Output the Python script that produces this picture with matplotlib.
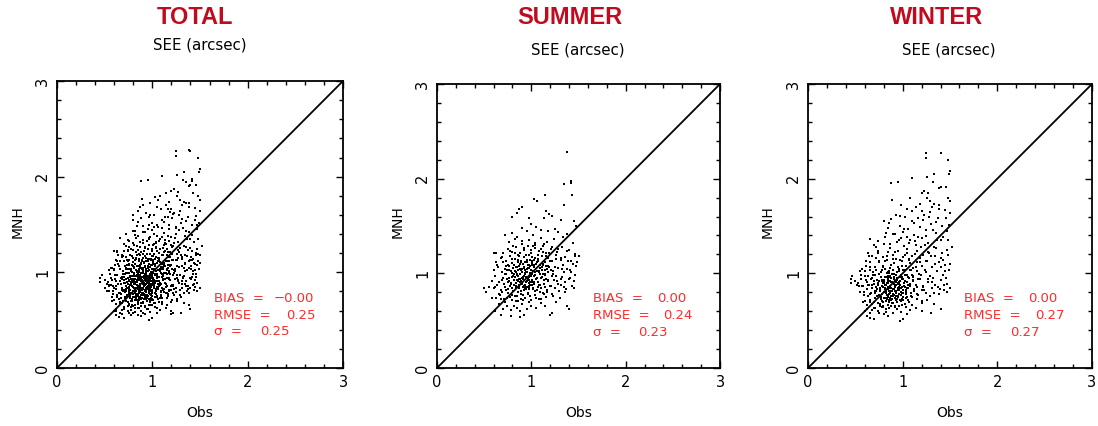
import numpy as np
from matplotlib import pyplot as plt
from matplotlib.ticker import MultipleLocator

summer_obs = [
    1.38, 1.35, 1.42, 1.42, 1.43, 1.14, 1.03, 1.06, 1.35, 0.90, 0.87, 0.85, 0.80, 1.16, 1.19, 1.13, 1.22, 1.31,
    1.45, 0.97, 0.80, 0.90, 1.00, 1.05, 1.10, 1.25, 1.28, 0.95, 0.72, 1.18, 1.38, 1.47, 0.85, 1.02, 1.34,
    0.52, 0.50, 0.55, 0.58, 0.62, 0.68, 0.78, 0.88, 0.92, 1.20, 1.22, 1.40, 1.38, 1.45, 1.48, 1.50, 0.63, 0.60,
    0.70, 0.74, 0.78, 0.82, 0.85, 0.90, 0.95, 1.00, 1.05, 1.10, 0.66, 0.72, 0.88, 0.98, 1.15, 1.26,
    0.63, 0.67, 0.71, 0.75, 0.79, 0.83, 0.86, 0.89, 0.93, 0.96, 1.00, 1.04, 1.08, 1.12, 1.16, 1.22, 1.30, 1.36,
    0.77, 0.91, 0.99, 0.69,
    0.60, 0.64, 0.68, 0.72, 0.75, 0.78, 0.81, 0.84, 0.87, 0.90, 0.92, 0.95, 0.98, 1.01, 1.04, 1.07, 1.10, 1.13,
    1.17, 1.21, 1.25, 1.31, 1.37, 1.43, 0.86, 0.93, 0.80, 0.97,
    0.58, 0.62, 0.66, 0.70, 0.73, 0.76, 0.79, 0.82, 0.85, 0.88, 0.90, 0.93, 0.95, 0.98, 1.01, 1.04, 1.07, 1.10,
    1.14, 1.18, 1.22, 1.27, 1.33, 1.40, 1.46, 0.87, 0.92, 0.84, 0.96,
    0.60, 0.65, 0.69, 0.72, 0.75, 0.78, 0.81, 0.84, 0.87, 0.89, 0.92, 0.94, 0.97, 1.00, 1.03, 1.06, 1.09, 1.12,
    1.15, 1.19, 1.23, 1.28, 1.34, 1.41, 1.47, 0.86, 0.99,
    0.63, 0.68, 0.73, 0.77, 0.80, 0.83, 0.86, 0.89, 0.92, 0.95, 0.98, 1.01, 1.04, 1.07, 1.11, 1.14, 1.18, 1.22,
    1.26, 1.31, 1.36, 1.42, 1.46,
    0.70, 0.75, 0.80, 0.84, 0.88, 0.92, 0.96, 1.00, 1.04, 1.08, 1.12, 1.16, 1.21, 1.27, 1.33, 1.40,
    0.76, 0.83, 0.90, 0.97, 1.04, 1.10, 1.17, 1.24, 1.44,
    0.81, 0.83, 0.85, 0.87, 0.88, 0.90, 0.91, 0.93, 0.94, 0.96, 0.97, 0.99, 1.00, 1.02, 1.03, 1.05, 1.06, 1.08,
    1.09, 1.11, 0.82, 0.84, 0.86, 0.89, 0.91, 0.94, 0.95, 0.98, 1.01, 1.02, 0.79, 0.77, 0.76, 1.13, 1.12, 1.15,
    1.16, 0.74, 0.73, 1.18,
]
summer_mnh = [
    2.28, 1.94, 1.98, 1.95, 1.83, 1.83, 1.79, 1.76, 1.72, 1.70, 1.68, 1.64, 1.60, 1.66, 1.63, 1.58, 1.61, 1.56,
    1.55, 1.58, 1.43, 1.48, 1.52, 1.49, 1.46, 1.47, 1.44, 1.45, 1.40, 1.45, 1.42, 1.50, 1.38, 1.40, 1.38,
    0.80, 0.84, 0.86, 0.74, 0.60, 0.56, 0.55, 0.54, 0.56, 0.56, 0.58, 0.62, 0.66, 0.85, 1.12, 1.18, 1.21, 1.22,
    0.62, 0.65, 0.61, 0.66, 0.63, 0.68, 0.62, 0.66, 0.63, 0.69, 0.68, 0.70, 0.60, 0.70, 0.66, 0.70,
    0.74, 0.77, 0.73, 0.79, 0.72, 0.76, 0.71, 0.78, 0.74, 0.79, 0.72, 0.77, 0.73, 0.79, 0.75, 0.78, 0.74, 0.80,
    0.75, 0.72, 0.76, 0.80,
    0.84, 0.88, 0.82, 0.86, 0.83, 0.89, 0.81, 0.87, 0.84, 0.89, 0.82, 0.86, 0.83, 0.88, 0.81, 0.86, 0.84, 0.89,
    0.82, 0.87, 0.84, 0.88, 0.83, 0.87, 0.80, 0.88, 0.85, 0.90,
    0.92, 0.97, 0.91, 0.95, 0.99, 0.92, 0.96, 0.93, 0.98, 0.91, 0.95, 0.99, 0.92, 0.96, 0.93, 0.98, 0.91, 0.95,
    0.99, 0.93, 0.97, 0.92, 0.96, 0.94, 0.98, 0.94, 0.97, 0.90, 0.94,
    1.03, 1.07, 1.01, 1.05, 1.09, 1.02, 1.06, 1.01, 1.08, 1.03, 1.06, 1.01, 1.09, 1.04, 1.07, 1.02, 1.06, 1.09,
    1.03, 1.07, 1.02, 1.06, 1.09, 1.04, 1.08, 1.04, 1.00,
    1.12, 1.16, 1.13, 1.18, 1.11, 1.15, 1.19, 1.12, 1.17, 1.14, 1.19, 1.11, 1.16, 1.13, 1.18, 1.12, 1.16, 1.13,
    1.19, 1.14, 1.17, 1.13, 1.18,
    1.22, 1.26, 1.23, 1.28, 1.21, 1.25, 1.29, 1.22, 1.27, 1.24, 1.29, 1.21, 1.26, 1.23, 1.28, 1.25,
    1.33, 1.36, 1.31, 1.35, 1.32, 1.37, 1.33, 1.36, 1.32,
    0.97, 1.02, 1.07, 0.88, 0.99, 1.05, 0.86, 1.03, 0.95, 1.06, 0.87, 1.08, 0.97, 1.02, 0.89, 1.10, 0.95, 1.01,
    0.88, 1.04, 1.09, 0.84, 1.12, 0.92, 1.10, 0.83, 1.01, 0.93, 1.13, 0.85, 1.00, 0.87, 1.04, 0.93, 1.10, 0.98,
    1.08, 0.94, 1.08, 1.01,
]
# second pass of summer points, (obs, mnh)
summer_extra = [
    (0.713, 0.884), (0.742, 1.032), (0.768, 0.951), (0.794, 1.147), (0.817, 0.873), (0.836, 1.066),
    (0.853, 0.927), (0.871, 1.183), (0.889, 0.817), (0.904, 1.011), (0.918, 0.869), (0.933, 1.121),
    (0.947, 0.963), (0.962, 0.781), (0.978, 1.052), (0.991, 0.906), (1.007, 1.168), (1.021, 0.834),
    (1.036, 1.015), (1.052, 0.942), (1.068, 1.197), (1.083, 0.876), (1.097, 1.083), (1.113, 0.958),
    (1.128, 1.226), (1.146, 0.851), (1.162, 1.041), (1.181, 0.917), (1.203, 1.134), (1.227, 0.993),
    (1.254, 1.071), (1.283, 0.884), (1.312, 1.162), (1.345, 1.018), (1.376, 1.231), (1.411, 0.952),
    (1.437, 1.096), (1.462, 1.204),
    (0.657, 0.786), (0.684, 0.931), (0.702, 1.118), (0.727, 0.823), (0.751, 0.912), (0.773, 1.241),
    (0.798, 0.769), (0.812, 0.992), (0.829, 1.214), (0.847, 0.758), (0.862, 0.973), (0.878, 1.097),
    (0.893, 0.729), (0.911, 0.938), (0.926, 1.263), (0.941, 0.851), (0.956, 1.044), (0.972, 0.694),
    (0.986, 1.136), (1.003, 0.872), (1.017, 1.291), (1.031, 0.967), (1.046, 0.744), (1.062, 1.118),
    (1.077, 1.023), (1.092, 0.803), (1.107, 1.253), (1.121, 0.997), (1.139, 0.781), (1.157, 1.182),
    (1.176, 1.073), (1.194, 0.861), (1.216, 1.276), (1.238, 0.931), (1.266, 1.149), (1.293, 0.813),
    (1.327, 1.047), (1.358, 0.906), (1.392, 1.132), (1.424, 1.013),
    (0.618, 0.853), (0.641, 1.087), (0.675, 0.732), (0.693, 1.172), (0.719, 0.991), (0.738, 0.741),
    (0.759, 1.074), (0.781, 0.897), (0.803, 1.286), (0.824, 0.962), (0.842, 0.707), (0.858, 1.138),
    (0.876, 0.943), (0.897, 1.337), (0.914, 0.771), (0.929, 1.004), (0.944, 1.192), (0.959, 0.918),
    (0.974, 0.843), (0.994, 1.247), (1.011, 1.087), (1.026, 0.908), (1.043, 1.304), (1.058, 0.826),
    (1.073, 1.151), (1.088, 0.992), (1.104, 0.733), (1.118, 1.064), (1.134, 1.311), (1.152, 0.937),
    (1.171, 0.808), (1.188, 1.212), (1.209, 1.039), (1.232, 0.762), (1.259, 0.968), (1.287, 1.253),
    (1.318, 0.937), (1.351, 0.852), (1.383, 1.044), (1.452, 0.917),
    (0.862, 0.921), (0.881, 1.047), (0.902, 0.883), (0.923, 1.071), (0.941, 0.907), (0.958, 1.118),
    (0.976, 0.961), (0.993, 1.034), (1.012, 0.912), (1.028, 1.089), (0.851, 0.996), (0.873, 0.867),
    (0.894, 1.128), (0.913, 0.958), (0.934, 0.841), (0.953, 1.016), (0.967, 1.092), (0.985, 0.879),
    (1.004, 0.997), (1.024, 1.143),
]

winter_obs = [
    1.25, 1.40, 1.25, 1.48, 1.50, 1.49, 1.33, 1.26, 1.10, 0.88, 0.95, 1.38, 1.40, 1.23, 1.20, 1.08, 1.26, 1.29,
    1.33, 1.48, 1.50, 0.89, 1.31, 1.38, 1.45, 0.98, 1.05, 1.14, 1.20, 0.93, 1.02, 1.16, 1.23, 1.28, 1.37, 1.50,
    0.80, 0.88, 1.10, 1.30, 1.42, 0.84, 0.97, 1.06, 1.18, 1.25, 1.47, 0.82, 0.90, 1.00, 1.12, 1.35, 0.66, 0.70,
    1.48,
    0.45, 0.45, 0.47, 0.50, 0.52, 0.55, 0.57, 0.60, 0.62, 0.65, 0.70, 0.75, 0.85, 0.97, 1.00, 1.05, 1.20, 1.30,
    1.40, 1.47, 1.50, 1.50, 1.52, 0.63,
    0.62, 0.66, 0.70, 0.74, 0.78, 0.82, 0.86, 0.90, 0.94, 0.98, 1.03, 1.08, 1.14, 0.68, 0.80, 0.92,
    0.58, 0.62, 0.65, 0.68, 0.71, 0.74, 0.77, 0.79, 0.82, 0.85, 0.87, 0.90, 0.93, 0.96, 0.99, 1.02, 1.06, 1.10,
    1.15, 1.20, 1.26, 1.33, 0.76, 0.84, 0.88, 0.95,
    0.55, 0.59, 0.62, 0.65, 0.68, 0.71, 0.73, 0.76, 0.78, 0.81, 0.83, 0.86, 0.88, 0.90, 0.93, 0.95, 0.98, 1.00,
    1.03, 1.06, 1.09, 1.12, 1.16, 1.20, 1.25, 1.31, 1.38, 1.44, 0.80, 0.87, 0.92, 0.97, 0.85, 0.75,
    0.53, 0.57, 0.61, 0.64, 0.67, 0.70, 0.72, 0.75, 0.78, 0.80, 0.82, 0.85, 0.87, 0.89, 0.92, 0.94, 0.97, 0.99,
    1.02, 1.05, 1.08, 1.11, 1.14, 1.18, 1.22, 1.27, 1.34, 1.41, 1.47, 0.84, 0.91, 0.96, 0.79, 0.88,
    0.56, 0.60, 0.63, 0.66, 0.69, 0.72, 0.75, 0.78, 0.81, 0.84, 0.87, 0.90, 0.93, 0.96, 0.99, 1.02, 1.05, 1.08,
    1.11, 1.15, 1.19, 1.24, 1.29, 1.36, 1.43, 1.49, 0.86, 0.94,
    0.61, 0.66, 0.71, 0.75, 0.79, 0.83, 0.87, 0.91, 0.95, 0.99, 1.03, 1.07, 1.11, 1.15, 1.20, 1.25, 1.31, 1.38,
    1.45, 0.93,
    0.68, 0.74, 0.79, 0.85, 0.90, 0.95, 1.00, 1.05, 1.10, 1.15, 1.21, 1.27, 1.34, 1.42, 1.48,
    0.72, 0.80, 0.87, 0.94, 1.01, 1.08, 1.14, 1.20, 1.27, 1.33, 1.40, 1.05, 0.98,
    0.76, 0.78, 0.80, 0.82, 0.84, 0.86, 0.88, 0.90, 0.92, 0.94, 0.96, 0.98, 1.00, 1.02, 1.04, 0.77, 0.79, 0.81,
    0.83, 0.85, 0.87, 0.89, 0.91, 0.93, 0.95, 0.97, 0.99, 1.01, 1.03, 1.05, 0.74, 0.72, 0.70, 1.07, 1.09,
]
winter_mnh = [
    2.27, 2.27, 2.22, 2.20, 2.08, 2.05, 2.05, 2.02, 2.01, 1.95, 1.96, 1.90, 1.91, 1.87, 1.85, 1.80, 1.80, 1.76,
    1.73, 1.80, 1.76, 1.77, 1.70, 1.72, 1.67, 1.72, 1.68, 1.70, 1.66, 1.62, 1.60, 1.58, 1.62, 1.60, 1.58, 1.64,
    1.55, 1.57, 1.55, 1.52, 1.50, 1.48, 1.50, 1.47, 1.49, 1.46, 1.45, 1.43, 1.42, 1.44, 1.41, 1.43, 1.36, 1.30,
    1.35,
    0.94, 0.90, 0.97, 0.92, 0.88, 1.02, 1.05, 0.60, 0.55, 0.53, 0.52, 0.58, 0.55, 0.50, 0.52, 0.57, 0.60, 0.58,
    0.62, 0.80, 0.84, 1.10, 1.28, 1.22,
    0.62, 0.58, 0.63, 0.60, 0.64, 0.59, 0.63, 0.58, 0.62, 0.59, 0.64, 0.61, 0.63, 0.61, 0.57, 0.65,
    0.70, 0.67, 0.72, 0.68, 0.74, 0.69, 0.73, 0.66, 0.71, 0.67, 0.74, 0.69, 0.72, 0.66, 0.73, 0.68, 0.72, 0.67,
    0.73, 0.69, 0.72, 0.68, 0.66, 0.75, 0.65, 0.75,
    0.80, 0.77, 0.83, 0.78, 0.84, 0.79, 0.76, 0.82, 0.78, 0.84, 0.77, 0.81, 0.76, 0.83, 0.79, 0.85, 0.77, 0.82,
    0.78, 0.84, 0.79, 0.83, 0.77, 0.82, 0.79, 0.84, 0.78, 0.82, 0.80, 0.79, 0.81, 0.84, 0.83, 0.77,
    0.90, 0.87, 0.93, 0.88, 0.94, 0.89, 0.86, 0.92, 0.87, 0.93, 0.88, 0.94, 0.86, 0.91, 0.87, 0.93, 0.88, 0.94,
    0.86, 0.91, 0.87, 0.93, 0.88, 0.94, 0.86, 0.91, 0.88, 0.93, 0.89, 0.90, 0.89, 0.91, 0.90, 0.95,
    0.98, 1.02, 0.97, 1.03, 0.98, 1.04, 0.99, 1.03, 0.96, 1.01, 0.97, 1.04, 0.98, 1.02, 0.96, 1.03, 0.98, 1.04,
    0.97, 1.02, 0.98, 1.04, 0.97, 1.02, 0.98, 1.03, 1.00, 1.01,
    1.08, 1.12, 1.07, 1.13, 1.08, 1.14, 1.06, 1.11, 1.07, 1.13, 1.08, 1.14, 1.06, 1.12, 1.08, 1.13, 1.07, 1.12,
    1.09, 1.15,
    1.18, 1.22, 1.17, 1.23, 1.19, 1.24, 1.17, 1.22, 1.18, 1.24, 1.19, 1.23, 1.18, 1.22, 1.19,
    1.28, 1.31, 1.27, 1.33, 1.29, 1.35, 1.30, 1.37, 1.32, 1.28, 1.35, 1.38, 1.37,
    0.85, 0.93, 0.74, 0.82, 0.97, 0.72, 0.84, 0.78, 0.92, 0.70, 0.82, 0.98, 0.75, 0.92, 0.80, 0.96, 0.70, 0.88,
    0.73, 0.86, 0.92, 0.73, 0.96, 0.76, 0.89, 0.72, 0.86, 0.90, 0.74, 0.85, 0.88, 0.81, 0.92, 0.95, 0.76,
]
# second pass of winter points, (obs, mnh)
winter_extra = [
    (0.583, 0.862), (0.607, 0.973), (0.629, 0.758), (0.652, 1.064), (0.671, 0.881), (0.694, 0.702),
    (0.713, 0.986), (0.731, 0.837), (0.748, 1.117), (0.766, 0.753), (0.783, 0.918), (0.797, 0.648),
    (0.811, 1.042), (0.826, 0.806), (0.838, 0.961), (0.853, 0.692), (0.867, 0.871), (0.879, 1.088),
    (0.894, 0.763), (0.908, 0.942), (0.921, 0.641), (0.936, 1.012), (0.951, 0.828), (0.967, 0.917),
    (0.983, 0.706), (0.998, 1.081), (1.013, 0.863), (1.029, 0.987), (1.046, 0.754), (1.063, 1.153),
    (1.081, 0.891), (1.098, 0.986), (1.117, 0.813), (1.138, 1.071), (1.161, 0.942), (1.187, 1.164),
    (1.213, 0.868), (1.243, 1.009), (1.276, 1.213), (1.307, 0.913), (1.342, 1.096), (1.374, 0.857),
    (1.408, 1.163), (1.443, 1.027), (1.471, 1.246),
    (0.562, 0.943), (0.591, 0.804), (0.614, 1.126), (0.637, 0.873), (0.658, 0.694), (0.681, 0.947),
    (0.703, 0.812), (0.722, 1.163), (0.739, 0.901), (0.757, 0.671), (0.774, 1.009), (0.789, 0.856),
    (0.804, 0.742), (0.818, 1.131), (0.832, 0.897), (0.846, 0.771), (0.859, 1.021), (0.873, 0.816),
    (0.886, 0.683), (0.901, 1.153), (0.914, 0.853), (0.928, 0.978), (0.943, 0.734), (0.958, 1.047),
    (0.973, 0.879), (0.989, 0.661), (1.004, 0.941), (1.021, 1.192), (1.037, 0.826), (1.054, 0.962),
    (1.072, 0.693), (1.089, 1.037), (1.108, 0.917), (1.127, 1.208), (1.149, 0.781), (1.173, 0.997),
    (1.198, 1.283), (1.226, 0.824), (1.258, 1.127), (1.291, 0.761), (1.324, 0.953), (1.357, 1.268),
    (1.391, 0.836), (1.427, 1.143), (1.462, 0.947),
    (0.541, 0.868), (0.572, 1.047), (0.598, 0.713), (0.621, 0.907), (0.644, 1.178), (0.663, 0.787),
    (0.688, 1.018), (0.708, 0.637), (0.727, 0.932), (0.744, 1.236), (0.762, 0.816), (0.779, 0.703),
    (0.793, 1.067), (0.808, 0.894), (0.821, 0.627), (0.834, 1.186), (0.849, 0.948), (0.863, 0.801),
    (0.876, 0.718), (0.891, 0.992), (0.904, 0.832), (0.917, 1.226), (0.931, 0.907), (0.947, 0.764),
    (0.962, 0.853), (0.977, 1.137), (0.993, 0.791), (1.008, 1.036), (1.024, 0.676), (1.041, 1.258),
    (1.058, 0.874), (1.076, 1.104), (1.094, 0.748), (1.113, 0.962), (1.133, 1.337), (1.156, 0.852),
    (1.179, 1.121), (1.204, 0.711), (1.232, 1.302), (1.263, 0.938), (1.297, 1.182), (1.331, 0.787),
    (1.366, 1.349), (1.401, 1.062), (1.437, 0.873),
    (0.742, 1.342), (0.813, 1.386), (0.866, 1.312), (0.921, 1.417), (0.962, 1.354), (1.018, 1.471),
    (1.071, 1.323), (1.124, 1.531), (1.167, 1.384), (1.211, 1.567), (1.247, 1.398), (1.289, 1.643),
    (1.322, 1.462), (1.356, 1.538), (1.389, 1.681), (1.421, 1.387), (1.453, 1.586), (1.486, 1.512),
    (0.853, 1.528), (0.977, 1.603), (1.094, 1.657), (1.178, 1.733), (1.272, 1.844), (1.318, 1.962),
    (1.462, 1.914),
    (0.816, 0.838), (0.829, 0.742), (0.842, 0.917), (0.857, 0.779), (0.869, 0.962), (0.883, 0.727),
    (0.897, 0.893), (0.911, 0.768), (0.925, 0.872), (0.938, 0.946), (0.952, 0.751), (0.966, 0.883),
    (0.979, 0.806), (0.992, 0.957), (1.006, 0.716), (0.806, 0.913), (0.822, 0.787), (0.837, 1.004),
    (0.851, 0.848), (0.865, 0.742), (0.878, 0.913), (0.892, 0.818), (0.906, 0.992), (0.919, 0.738),
    (0.933, 0.811), (0.946, 0.897), (0.961, 0.783), (0.974, 0.966), (0.987, 0.843), (1.001, 0.788),
]

panel_names = ['TOTAL', 'SUMMER', 'WINTER']
bias_values = ['\u22120.00', '0.00', '0.00']
rmse_values = ['0.25', '0.24', '0.27']
sigma_values = ['0.25', '0.23', '0.27']


def season_points(obs, mnh, extra):
    return list(obs) + [p[0] for p in extra], list(mnh) + [p[1] for p in extra]


s_obs, s_mnh = season_points(summer_obs, summer_mnh, summer_extra)
w_obs, w_mnh = season_points(winter_obs, winter_mnh, winter_extra)
panel_data = [(s_obs + w_obs, s_mnh + w_mnh), (s_obs, s_mnh), (w_obs, w_mnh)]

W, H = 1098, 426
axes_px = [(57, 81, 286, 287), (437, 84, 283, 284), (808, 84, 284, 284)]
title_px = [(195, 17, 200, 45), (570, 17, 578, 50), (937, 17, 949, 50)]
mnh_px = [18, 398, 768]

red_title = '#c20a1e'
red_stat = '#ff2b2b'
title_font = ['Liberation Sans Narrow', 'Liberation Sans', 'DejaVu Sans']
text_font = ['DejaVu Sans']


def draw_panel(fig, k):
    x0, y0, w, h = axes_px[k]
    ax = fig.add_axes([x0 / W, 1 - (y0 + h) / H, w / W, h / H])
    obs, mnh = panel_data[k]
    ax.plot(obs, mnh, 's', color='k', ms=1.9, mew=0, linestyle='none')
    ax.plot([0, 3], [0, 3], color='k', lw=1.3)
    ax.set_xlim(0, 3)
    ax.set_ylim(0, 3)
    for a in (ax.xaxis, ax.yaxis):
        a.set_major_locator(MultipleLocator(1))
        a.set_minor_locator(MultipleLocator(0.2))
    ax.tick_params(which='both', direction='in', top=True, right=True, width=1.0)
    ax.tick_params(which='major', length=5, labelsize=10.5, pad=5)
    ax.tick_params(which='minor', length=3)
    for lab in ax.get_yticklabels():
        lab.set_rotation(90)
        lab.set_va('center')
    for sp in ax.spines.values():
        sp.set_linewidth(1.3)

    stat_kw = dict(color=red_stat, fontsize=9.5, va='center', family=text_font)
    ax.text(1.65, 0.73, 'BIAS  =', **stat_kw)
    ax.text(2.27 if bias_values[k].startswith('\u2212') else 2.33, 0.73, bias_values[k], **stat_kw)
    ax.text(1.65, 0.55, 'RMSE  =', **stat_kw)
    ax.text(2.40, 0.55, rmse_values[k], **stat_kw)
    ax.text(1.65, 0.38, '\u03c3  =', **stat_kw)
    ax.text(2.13, 0.38, sigma_values[k], **stat_kw)

    tx, ty, sx, sy = title_px[k]
    fig.text(tx / W, 1 - ty / H, panel_names[k], color=red_title, fontsize=17, fontweight='bold',
             ha='center', va='center', family=title_font)
    fig.text(sx / W, 1 - sy / H, 'SEE (arcsec)', fontsize=10.8, ha='center', va='center', family=text_font)
    fig.text((x0 + w / 2) / W, 1 - 413 / H, 'Obs', fontsize=10, ha='center', va='center', family=text_font)
    fig.text(mnh_px[k] / W, 1 - 222 / H, 'MNH', fontsize=10, rotation=90, ha='center', va='center',
             family=text_font)
    return ax


fig = plt.figure(figsize=(W / 100, H / 100), dpi=100)
for k in range(len(panel_names)):
    draw_panel(fig, k)
fig.savefig('out.png', dpi=100, facecolor='white')
plt.close()
